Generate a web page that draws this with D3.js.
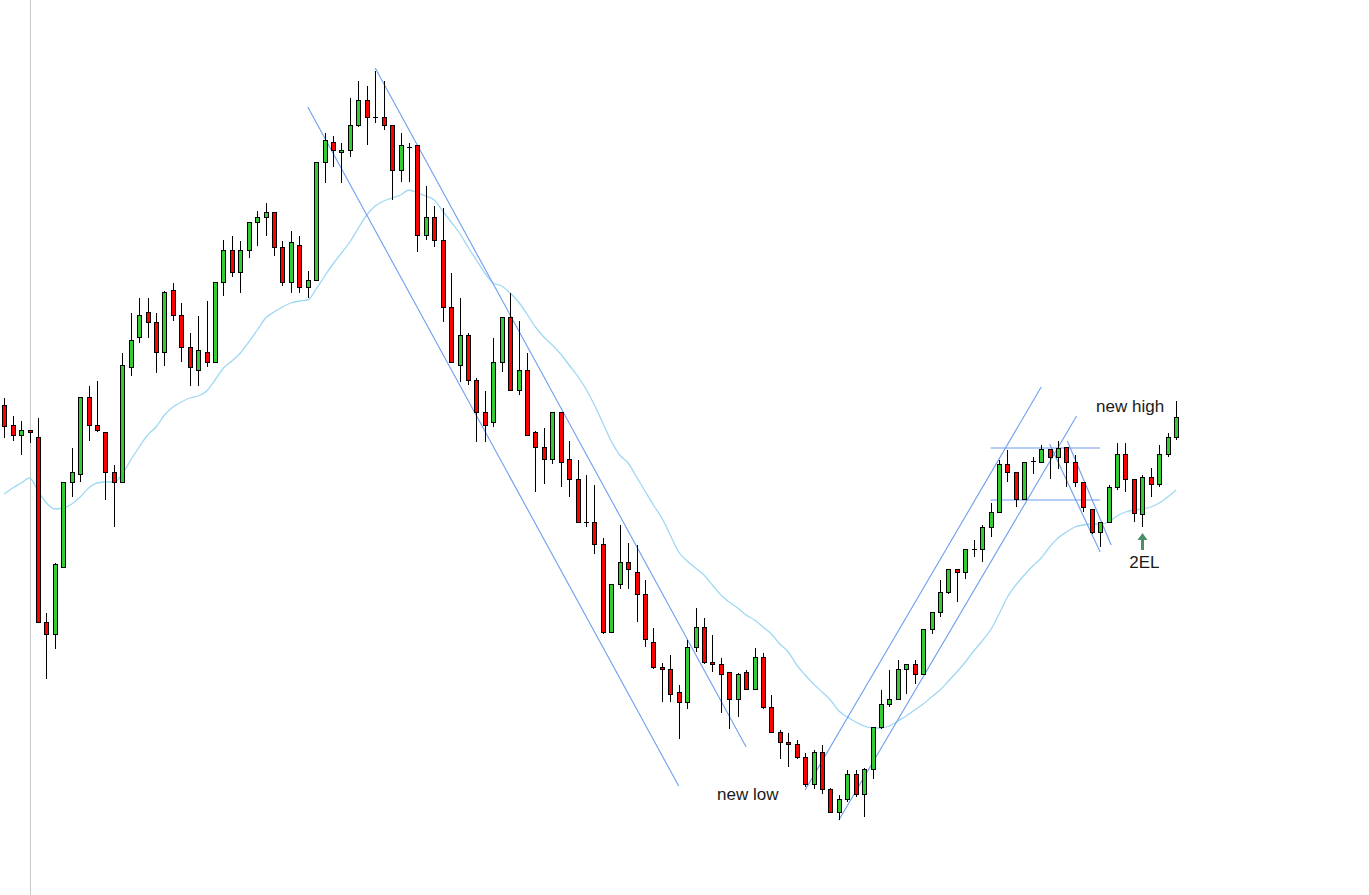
<!DOCTYPE html>
<html>
<head>
<meta charset="utf-8">
<script src="https://cdn.jsdelivr.net/npm/d3@7"></script>
<style>
  html, body { margin: 0; padding: 0; background: #ffffff; }
  svg { display: block; }
</style>
</head>
<body>
<script>
// ---- data (price units) ----
const opens = [595,575,565,570,563,378,366,433,518,526, 603,575,568,528,518,633,663,688,678,648,
  710,685,653,630,648,638,718,750,728,750, 778,783,788,753,718,755,713,720,838,858,
  848,850,875,900,883,883,875,830,853,855, 765,783,760,693,635,665,620,588,578,638,
  683,610,630,568,553,541,588,541,521,478, 478,456,368,416,438,428,406,358,333,331,
  308,298,353,373,338,336,328,301,328,311, 343,293,268,258,256,243,216,248,211,188,
  201,226,206,231,273,296,301,331,336,326, 371,388,408,431,428,451,451,473,488,536,
  528,501,539,538,551,543,553,538,518,491, 468,478,513,546,521,486,523,516,546,563];
const highs = [602,584,579,570,582,387,437,518,552,603, 614,619,568,535,647,687,702,702,687,709,
  717,697,667,684,699,718,760,764,759,778, 789,797,788,759,769,764,729,838,867,864,
  857,902,919,914,929,919,875,867,857,855, 814,794,792,727,702,667,622,609,662,683,
  707,679,647,569,572,588,588,559,540,525, 515,462,416,475,457,455,420,372,337,345,
  315,360,392,382,365,342,328,327,330,352, 347,305,270,267,260,247,250,255,212,205,
  230,230,232,273,310,330,340,336,340,371, 388,420,431,431,451,460,475,497,540,550,
  528,538,543,555,551,559,553,545,518,491, 478,515,557,557,521,525,532,555,567,599];
const lows = [562,559,545,557,378,321,351,433,503,518, 559,568,500,473,518,624,657,662,627,634,
  679,638,614,614,633,638,704,723,707,742, 754,764,744,714,707,707,702,720,817,833,
  817,843,873,855,877,870,800,818,818,748, 760,753,678,638,618,615,558,558,573,628,
  610,605,565,508,516,536,513,503,478,473, 446,366,368,411,411,378,353,331,298,298,
  261,291,348,336,328,287,271,283,311,311, 291,268,241,233,241,213,211,206,188,180,
  198,203,183,221,271,293,301,306,316,326, 366,383,406,398,421,443,438,463,488,518,
  493,501,526,538,521,531,513,513,488,466, 453,478,510,508,478,473,503,513,543,560];
const closes = [574,565,570,568,378,366,436,518,528,603, 575,570,528,518,635,660,685,678,648,708,
  685,653,633,650,638,718,750,728,750,778, 783,788,753,718,758,713,720,838,860,850,
  850,875,900,883,883,875,830,855,853,765, 783,760,693,638,665,620,588,575,638,683,
  610,630,565,553,541,588,538,521,478,478, 456,368,416,438,431,406,361,333,331,306,
  298,353,373,338,336,326,301,326,311,343, 293,268,258,256,243,216,248,211,188,201,
  226,206,231,273,296,301,331,336,326,371, 388,408,431,428,451,451,473,488,536,528,
  501,538,539,551,543,552,538,518,493,468, 478,513,546,521,487,523,516,546,563,583];
const movingAvg = [506,512,517,522,509,497,491,492,496,503, 512,517,518,518,526,540,553,565,573,585,
  593,598,602,604,609,620,632,639,647,658, 670,682,688,693,697,699,700,711,724,736,
  747,758,772,785,794,799,802,805,810,807, 804,800,789,778,767,753,740,727,717,714,
  707,698,686,673,663,655,646,635,624,611, 595,577,559,545,537,523,509,495,482,465,
  448,439,432,425,415,405,398,392,385,380, 373,366,356,348,335,325,316,308,300,289,
  283,278,274,272,272,274,279,284,290,296, 303,310,319,328,338,349,359,370,386,403,
  415,425,434,442,453,462,468,473,475,476, 476,478,484,488,490,491,493,497,503,510];

// trend lines: [barIndex1, price1, barIndex2, price2]
const trendLines = [
  [36.0, 893, 80.0, 214],
  [44.0, 932, 88.0, 253],
  [95.0, 210, 123.0, 613],
  [99.0, 180, 127.2, 584],
  [117.0, 552, 130.0, 552],
  [117.0, 500, 130.0, 500],
  [124.0, 556, 130.0, 448],
  [126.1, 559, 131.3, 455]
];
// annotations: [text, barIndex, price]
const labels = [
  ["new low", 88.2, 200],
  ["new high", 133.55, 588],
  ["2EL", 135.25, 432]
];
const arrowAt = [135, 467, 450]; // bar index, tip price, tail price

// ---- drawing ----
const W = 1369, H = 895;
const n = opens.length;
const x = d3.scaleLinear().domain([0, n - 1]).range([4.3, 4.3 + (n - 1) * 8.43]);
const y = d3.scaleLinear().domain([100, 1000]).range([900, 0]);

const svg = d3.select("body").append("svg").attr("width", W).attr("height", H);
svg.append("rect").attr("width", W).attr("height", H).attr("fill", "#fff");

// vertical separator
svg.append("line").attr("x1", 30.5).attr("x2", 30.5).attr("y1", 0).attr("y2", H)
  .attr("stroke", "#c8c8c8").attr("stroke-width", 1);

// moving average
const maLine = d3.line().x((d, i) => x(i)).y(d => y(d)).curve(d3.curveMonotoneX);
svg.append("path").datum(movingAvg).attr("d", maLine)
  .attr("fill", "none").attr("stroke", "#9fd8f2").attr("stroke-width", 1.3);

// trend lines
svg.append("g").selectAll("line").data(trendLines).join("line")
  .attr("x1", d => x(d[0])).attr("y1", d => y(d[1]))
  .attr("x2", d => x(d[2])).attr("y2", d => y(d[3]))
  .attr("stroke", "#6f9df0").attr("stroke-width", 1.1);

// candles
const bars = d3.range(n).map(i => ({i, o: opens[i], h: highs[i], l: lows[i], c: closes[i]}));
const g = svg.append("g");
const px = i => Math.round(x(i));
g.selectAll("line.wick").data(bars).join("line").attr("class", "wick")
  .attr("x1", d => px(d.i) + 0.5).attr("x2", d => px(d.i) + 0.5)
  .attr("y1", d => Math.round(y(d.h))).attr("y2", d => Math.round(y(d.l)))
  .attr("stroke", "#000").attr("stroke-width", 1);
g.selectAll("rect.body").data(bars.filter(d => d.o !== d.c)).join("rect").attr("class", "body")
  .attr("x", d => px(d.i) - 2 + 0.5)
  .attr("y", d => Math.round(y(Math.max(d.o, d.c))) + 0.5)
  .attr("width", 4)
  .attr("height", d => Math.max(1, Math.round(y(Math.min(d.o, d.c))) - Math.round(y(Math.max(d.o, d.c)))))
  .attr("fill", d => d.c > d.o ? "#33cc33" : "#ff0000")
  .attr("stroke", "#000").attr("stroke-width", 1);
g.selectAll("line.doji").data(bars.filter(d => d.o === d.c)).join("line").attr("class", "doji")
  .attr("x1", d => px(d.i) - 2).attr("x2", d => px(d.i) + 3)
  .attr("y1", d => Math.round(y(d.o)) + 0.5).attr("y2", d => Math.round(y(d.o)) + 0.5)
  .attr("stroke", "#000").attr("stroke-width", 1);

// labels
svg.append("g").selectAll("text").data(labels).join("text")
  .attr("x", d => x(d[1])).attr("y", d => y(d[2]))
  .attr("text-anchor", "middle")
  .attr("font-family", "'Liberation Sans', Arial, sans-serif")
  .attr("font-size", 17).attr("fill", "#1a1a1a")
  .text(d => d[0]);

// arrow
const ax = px(arrowAt[0]) + 0.5, ay1 = y(arrowAt[1]), ay2 = y(arrowAt[2]);
svg.append("path")
  .attr("d", `M${ax},${ay1} L${ax + 5},${ay1 + 7} L${ax + 1.5},${ay1 + 7} L${ax + 1.5},${ay2} L${ax - 1.5},${ay2} L${ax - 1.5},${ay1 + 7} L${ax - 5},${ay1 + 7} Z`)
  .attr("fill", "#4a8f66");
</script>
</body>
</html>
